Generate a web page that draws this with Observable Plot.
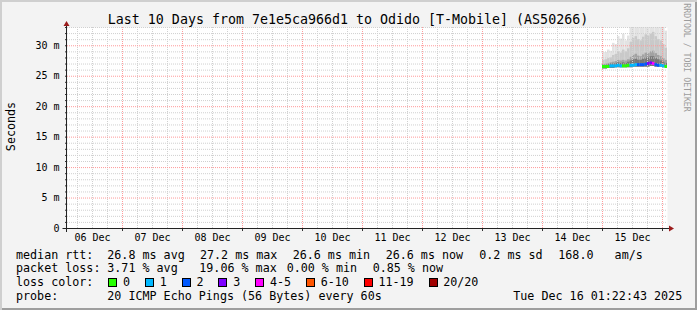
<!DOCTYPE html>
<html>
<head>
<meta charset="utf-8">
<script src="https://cdn.jsdelivr.net/npm/d3@7"></script>
<script src="https://cdn.jsdelivr.net/npm/@observablehq/plot@0.6"></script>
<style>
html,body{margin:0;padding:0;background:#f3f3f3;}
#chart{position:relative;width:697px;height:310px;overflow:hidden;background:#f3f3f3;box-shadow:inset 2px 2px 0 #cfcfcf, inset -2px -2px 0 #9e9e9e;}
#chart svg{display:block;}
</style>
</head>
<body>
<div id="chart"></div>
<script>
// ---------- text ----------
const titleText = "Last 10 Days from 7e1e5ca966d1 to Odido [T-Mobile] (AS50266)";
const yAxisTitle = "Seconds";
const watermark = "RRDTOOL / TOBI OETIKER";

// ---------- ranges ----------
const rangeStart = "2025-12-06T02:00Z";
const rangeEnd = "2025-12-16T02:00Z";
const yMax = 33;

// ---------- ticks ----------
const yTickValues = [0, 5, 10, 15, 20, 25, 30];
const yTickLabels = ["0", "5 m", "10 m", "15 m", "20 m", "25 m", "30 m"];
const dayLabelTimes = ["2025-12-06T12:00Z","2025-12-07T12:00Z","2025-12-08T12:00Z","2025-12-09T12:00Z","2025-12-10T12:00Z",
  "2025-12-11T12:00Z","2025-12-12T12:00Z","2025-12-13T12:00Z","2025-12-14T12:00Z","2025-12-15T12:00Z"];
const dayLabels = ["06 Dec","07 Dec","08 Dec","09 Dec","10 Dec","11 Dec","12 Dec","13 Dec","14 Dec","15 Dec"];

// ---------- data (hourly samples) ----------
const sampleTimes = ["2025-12-15T00:00Z","2025-12-15T01:00Z","2025-12-15T02:00Z","2025-12-15T03:00Z","2025-12-15T04:00Z",
  "2025-12-15T05:00Z","2025-12-15T06:00Z","2025-12-15T07:00Z","2025-12-15T08:00Z","2025-12-15T09:00Z",
  "2025-12-15T10:00Z","2025-12-15T11:00Z","2025-12-15T12:00Z","2025-12-15T13:00Z","2025-12-15T14:00Z",
  "2025-12-15T15:00Z","2025-12-15T16:00Z","2025-12-15T17:00Z","2025-12-15T18:00Z","2025-12-15T19:00Z",
  "2025-12-15T20:00Z","2025-12-15T21:00Z","2025-12-15T22:00Z","2025-12-15T23:00Z","2025-12-16T00:00Z","2025-12-16T01:00Z"];
const smokeMin = [26.2,26.2,26.3,26.3,26.3,26.4,26.4,26.4,26.4,26.4, 26.4,26.4,26.5,26.5,26.5,26.5,26.5,26.5,26.5,26.6, 26.6,26.5,26.5,26.5,26.4,26.4];
const smokeP60 = [26.8,26.8,26.9,27.0,27.0,27.1,27.2,27.1,27.2,27.1, 27.3,27.5,27.7,27.8,27.6,27.6,27.8,28.0,28.0,28.2, 28.2,27.9,27.7,27.5,27.3,27.1];
const smokeP75 = [26.9,27.0,27.1,27.2,27.3,27.4,27.6,27.5,27.6,27.5, 27.7,28.1,28.4,28.6,28.3,28.2,28.5,28.8,28.7,29.0, 29.1,28.7,28.4,28.2,27.9,27.6];
const smokeP90 = [27.6,27.7,27.9,28.0,28.4,28.6,29.0,28.8,29.3,29.0, 29.5,30.6,31.2,31.5,31.0,30.8,31.4,31.8,31.6,31.9, 32.2,31.5,31.0,30.8,30.2,29.6];
const smokeMax = [28.9,28.9,29.3,29.1,30.4,30.2,31.5,31.1,31.9,30.8, 31.6,33.5,34,34,34,33.2,34,34,34,34, 34,34,34,34,33.6,32.4];
const medianRtt = [26.6,26.6,26.6,26.7,26.7,26.7,26.8,26.7,26.7,26.7, 26.8,26.8,26.8,26.9,26.9,26.9,26.9,27.0,27.1,27.2, 27.1,26.9,26.8,26.8,26.7,26.6];
const lossCount = [0,0,0,1,1,1,1,1,0,0, 0,1,1,1,2,2,2,2,3,3, 4,2,2,1,1,0];

// ---------- legend ----------
const lossLabels = ["0","1","2","3","4-5","6-10","11-19","20/20"];
const lossColors = ["#26ff00","#00b8ff","#0059ff","#7e00ff","#ff00ff","#ff5500","#ff0000","#a00000"];
const rttStats = ["26.8 ms avg","27.2 ms max","26.6 ms min","26.6 ms now","0.2 ms sd","168.0   am/s"];
const lossStats = ["3.71 % avg","19.06 % max","0.00 % min","0.85 % now"];
const probeText = "20 ICMP Echo Pings (56 Bytes) every 60s";
const stampText = "Tue Dec 16 01:22:43 2025";

// ---------- build ----------
const t0 = new Date(rangeStart), t1 = new Date(rangeEnd);
function lossBucket(n){ if (n <= 3) return n; if (n <= 5) return 4; if (n <= 10) return 5; if (n <= 19) return 6; return 7; }
const samples = sampleTimes.map((s, i) => {
  const t = new Date(s);
  return {t, t2: d3.utcHour.offset(t, 1), min: smokeMin[i], p60: smokeP60[i], p75: smokeP75[i], p90: smokeP90[i], max: smokeMax[i],
          med: medianRtt[i], color: lossColors[lossBucket(lossCount[i])]};
});
const dayDates = dayLabelTimes.map(s => new Date(s));
const minorY = d3.range(1, yMax + 1).filter(v => v % 5 !== 0);
const majorY = yTickValues.filter(v => v > 0);
const minorX = d3.utcHour.every(6).range(t0, t1).filter(d => d.getUTCHours() !== 0);
const majorX = d3.utcDay.range(t0, t1);

const FONT = "'DejaVu Sans Mono', monospace";
const plot = Plot.plot({
  width: 697, height: 310,
  marginLeft: 67, marginRight: 30, marginTop: 27, marginBottom: 82,
  x: {type: "utc", domain: [t0, t1]},
  y: {domain: [0, yMax]},
  color: {type: "identity"},
  style: {background: "transparent", fontFamily: FONT, fontSize: "10px", color: "#000", overflow: "visible"},
  marks: [
    Plot.frame({fill: "#ffffff", stroke: "none"}),
    Plot.rect(samples, {x1: "t", x2: "t2", y1: "min", y2: "max", fill: "#e3e3e3", clip: true}),
    Plot.rect(samples, {x1: "t", x2: "t2", y1: "min", y2: "p90", fill: "#c9c9c9", clip: true}),
    Plot.rect(samples, {x1: "t", x2: "t2", y1: "min", y2: "p75", fill: "#a2a2a2", clip: true}),
    Plot.rect(samples, {x1: "t", x2: "t2", y1: "min", y2: "p60", fill: "#777777", clip: true}),
    Plot.ruleY(minorY, {stroke: "#d0d0d0", strokeDasharray: "1,1"}),
    Plot.ruleX(minorX, {stroke: "#d0d0d0", strokeDasharray: "1,1"}),
    Plot.ruleY(majorY, {stroke: "#ff9a9a", strokeDasharray: "1,1"}),
    Plot.ruleX(majorX, {stroke: "#ff9a9a", strokeDasharray: "1,1"}),
    Plot.ruleY(samples, {x1: "t", x2: "t2", y: "med", stroke: "color", strokeWidth: 3, clip: true}),
    Plot.axisX({ticks: dayDates, tickFormat: d => dayLabels[dayDates.findIndex(t => +t === +d)], tickSize: 0, tickPadding: 5, label: null}),
    Plot.axisX({ticks: majorX, tickFormat: () => "", tickSize: 3, label: null, stroke: "#333"}),
    Plot.axisY({ticks: yTickValues, tickFormat: d => yTickLabels[yTickValues.indexOf(d)], tickSize: 0, tickPadding: 8, label: null}),
    Plot.axisY({ticks: d3.range(0, yMax + 1), tickFormat: () => "", tickSize: 2, label: null, stroke: "#333"})
  ]
});
document.getElementById("chart").appendChild(plot);

// axis lines and arrows through the scales
const sx = plot.scale("x"), sy = plot.scale("y");
const X0 = sx.apply(t0), X1 = sx.apply(t1), Y0 = sy.apply(0), YT = sy.apply(yMax);
const svg = d3.select(plot);
const g = svg.append("g");
g.append("line").attr("x1", X0 - 4.5).attr("x2", X1 + 2.5).attr("y1", Y0 + 0.5).attr("y2", Y0 + 0.5).attr("stroke", "#222");
g.append("line").attr("x1", X0 - 0.5).attr("x2", X0 - 0.5).attr("y1", Y0 + 4).attr("y2", YT - 1).attr("stroke", "#222");
g.append("path").attr("d", `M${X1 + 2},${Y0 - 2.5}L${X1 + 7},${Y0 + 0.5}L${X1 + 2},${Y0 + 3.5}Z`).attr("fill", "#9b1c1c");
g.append("path").attr("d", `M${X0 - 3.5},${YT - 1}L${X0 - 0.5},${YT - 6}L${X0 + 2.5},${YT - 1}Z`).attr("fill", "#9b1c1c");

// texts
const tg = svg.append("g").attr("font-family", FONT).attr("fill", "#000").attr("text-anchor", "start");
tg.append("text").attr("x", 348).attr("y", 23.5).attr("text-anchor", "middle").attr("font-size", "13.3px").text(titleText);
tg.append("text").attr("transform", "translate(15,126.5) rotate(-90)").attr("text-anchor", "middle").attr("font-size", "11.7px").text(yAxisTitle);
tg.append("text").attr("transform", "translate(684,57.5) rotate(90)").attr("text-anchor", "middle").attr("font-size", "8.2px").attr("fill", "#9c9c9c").text(watermark);

const LF = "11.7px";
const rows = [258.5, 272.3, 286, 299.7];
function lt(x, y, s){ tg.append("text").attr("x", x).attr("y", y).attr("font-size", LF).attr("text-anchor", "start").style("white-space", "pre").text(s); }
lt(16, rows[0], "median rtt:");
[107.3, 200, 292.7, 385.7, 479.3, 558.3].forEach((x, i) => lt(x, rows[0], rttStats[i]));
lt(16, rows[1], "packet loss:");
[107.3, 199.3, 286.7, 372.7].forEach((x, i) => lt(x, rows[1], lossStats[i]));
lt(16, rows[2], "loss color:");
let bx = 108.3;
lossLabels.forEach((lab, i) => {
  tg.append("rect").attr("x", Math.round(bx) + 0.5).attr("y", 278.5).attr("width", 8).attr("height", 8)
    .attr("fill", lossColors[i]).attr("stroke", "#000");
  lt(bx + 14.7, rows[2], lab);
  bx += 29.7 + 7.02 * lab.length;
});
lt(16, rows[3], "probe:");
lt(107.3, rows[3], probeText);
lt(513.3, rows[3], stampText);
</script>
</body>
</html>
